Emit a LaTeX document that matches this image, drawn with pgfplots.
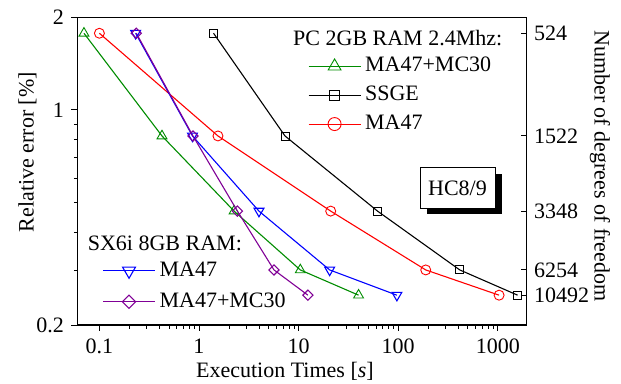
\documentclass[border=0pt]{standalone}
\usepackage{fontspec}
\setmainfont{Liberation Serif}
\usepackage{pgfplots}
\pgfplotsset{compat=1.18}
\definecolor{cgreen}{RGB}{0,140,0}
\definecolor{cpurple}{RGB}{128,0,150}
\definecolor{cblue}{RGB}{0,0,255}
\definecolor{cred}{RGB}{255,0,0}
\pgfplotsset{
  every axis/.append style={
    axis line style={line width=1.1pt},
    major tick length=6pt, minor tick length=3.5pt,
    every tick/.style={line width=0.9pt, black},
    /pgf/number format/assume math mode=true,
    tick label style={font=\fontsize{22}{26}\selectfont},
    label style={font=\fontsize{22}{26}\selectfont},
    legend style={draw=none, fill=none, inner xsep=0pt, inner ysep=0pt,
      font=\fontsize{22}{26}\selectfont, legend cell align=left,
      nodes={inner sep=2pt, text depth=0.15em}, column sep=2pt},
  },
  legend image code/.code={\draw[mark repeat=2,mark phase=2,#1, every mark/.append style={scale=1.3}] plot coordinates {(0pt,0pt) (26pt,0pt) (52pt,0pt)};},
  every axis plot/.append style={line width=1.1pt, mark options={solid, fill=white, line width=0.9pt}},
}
\begin{document}
\fontsize{22}{26}\selectfont
\begin{tikzpicture}
\begin{axis}[
  scale only axis, width=449.4pt, height=307.7pt,
  xmode=log, ymode=log, xmin=0.06, xmax=1950, ymin=0.2, ymax=2,
  at={(0,0)}, anchor=south west,
  tick pos=left, tick align=outside,
  xtick={0.1,1,10,100,1000}, xticklabels={0.1,1,10,100,1000},
  ytick={0.2,1,2}, yticklabels={0.2,1,2},
  minor ytick={0.3,0.4,0.5,0.6,0.7,0.8,0.9},
  xlabel={Execution Times [\textit{s}]},
  xlabel style={at={(rel axis cs:0.462,-0.172)}, anchor=base},
  ylabel={Relative error [\%]},
  ylabel style={at={(rel axis cs:-0.1108,0.562)}, anchor=center},
  legend style={at={(rel axis cs:0.513,0.877)}, anchor=north west, row sep=7pt},
]
\addplot[cgreen, mark=triangle, mark size=5.7pt] coordinates {
 (0.070,1.775) (0.425,0.823) (2.25,0.469) (10.4,0.302) (40,0.250)};
\addlegendentry{MA47+MC30}
\addplot[black, mark=square, mark size=4pt] coordinates {
 (1.40,1.775) (7.3,0.823) (62,0.469) (415,0.302) (1580,0.250)};
\addlegendentry{SSGE}
\addplot[cred, mark=o, mark size=5pt] coordinates {
 (0.100,1.775) (1.55,0.823) (21,0.469) (189,0.302) (1030,0.250)};
\addlegendentry{MA47}
\coordinate (sw) at (rel axis cs:0,0);
\coordinate (ne) at (rel axis cs:1,1);
\coordinate (t1) at (rel axis cs:0.480,0.908);
\coordinate (t2) at (rel axis cs:0.0231,0.2405);
\coordinate (hc) at (rel axis cs:0.846,0.445);
\end{axis}
\begin{axis}[
  scale only axis, width=449.4pt, height=307.7pt,
  xmode=log, ymode=log, xmin=0.06, xmax=1950, ymin=0.2, ymax=2,
  at={(0,0)}, anchor=south west,
  axis x line=none, axis y line*=right, tick align=inside,
  ytick={1.775,0.823,0.469,0.302,0.250}, yticklabels={524,1522,3348,6254,10492},
  minor ytick={},
  ylabel={Number of degrees of freedom},
  ylabel style={at={(rel axis cs:1.163,0.517)}, anchor=center, rotate=180},
  legend style={at={(rel axis cs:0.0556,0.212)}, anchor=north west, row sep=9pt},
]
\addplot[cblue, mark=triangle, mark size=5.7pt, mark options={rotate=180}] coordinates {
 (0.231,1.775) (0.86,0.823) (4.0,0.469) (20.5,0.302) (97,0.250)};
\addlegendentry{MA47}
\addplot[cpurple, mark=square, mark size=3.6pt, mark options={rotate=45}] coordinates {
 (0.235,1.775) (0.87,0.823) (2.43,0.469) (5.66,0.302) (12.4,0.250)};
\addlegendentry{MA47+MC30}
\end{axis}
\node[anchor=base west, inner sep=0pt] at (t1) {PC 2GB RAM 2.4Mhz:};
\node[anchor=base west, inner sep=0pt] at (t2) {SX6i 8GB RAM:};
\node[fill=black, minimum width=75pt, minimum height=40.6pt, inner sep=0pt] at ([xshift=7pt,yshift=-6pt]hc) {};
\node[draw=black, line width=0.9pt, fill=white, minimum width=75pt, minimum height=40.6pt, inner sep=0pt] at (hc) {HC8/9};
\pgfresetboundingbox
\path[use as bounding box] ([xshift=-77.3pt,yshift=-58pt]sw) rectangle ([xshift=94.3pt,yshift=17.3pt]ne);
\end{tikzpicture}
\end{document}
